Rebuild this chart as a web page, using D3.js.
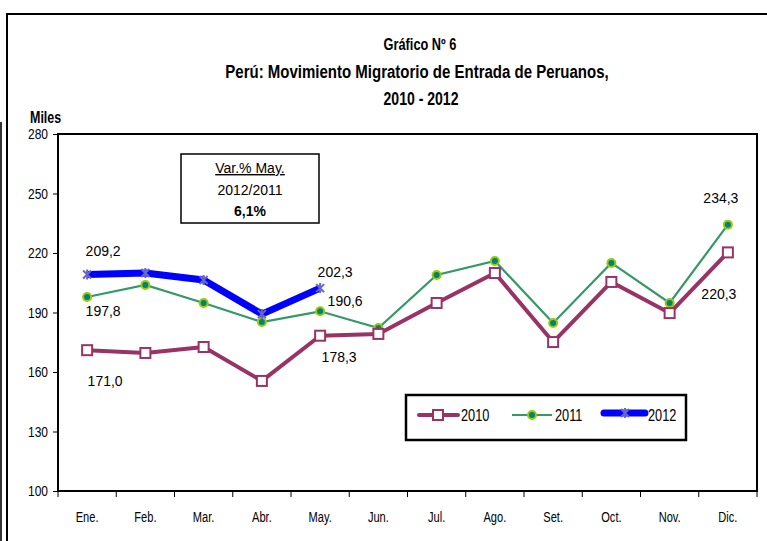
<!DOCTYPE html>
<html lang="es">
<head>
<meta charset="UTF-8">
<title>Gráfico Nº 6</title>
<script src="https://cdn.jsdelivr.net/npm/d3@7"></script>
<style>
  body { margin: 0; background: #fff; }
  text { font-family: "Liberation Sans", Arial, sans-serif; fill: #000; }
</style>
</head>
<body>
<svg id="chart"></svg>
<script>
  // data
  const months = ["Ene.", "Feb.", "Mar.", "Abr.", "May.", "Jun.", "Jul.", "Ago.", "Set.", "Oct.", "Nov.", "Dic."];
  const v2010 = [171.0, 169.6, 172.6, 155.5, 178.3, 179.2, 194.8, 209.9, 175.1, 205.4, 189.7, 220.3];
  const v2011 = [197.8, 203.9, 194.8, 185.2, 190.6, 182.2, 208.9, 216.0, 184.7, 215.0, 194.8, 234.3];
  const v2012 = [209.2, 209.9, 206.4, 189.2, 202.3];
  const yTicks = [100, 130, 160, 190, 220, 250, 280];

  const width = 767, height = 541;
  const svg = d3.select("#chart").attr("width", width).attr("height", height);

  // narrow text (no condensed font available, so squeeze it)
  function ntext(parent, x, y, str, size, sx, anchor, weight) {
    return parent.append("text")
      .attr("transform", `translate(${x},${y}) scale(${sx},1)`)
      .attr("text-anchor", anchor || "start")
      .attr("font-size", size)
      .attr("font-weight", weight || "normal")
      .text(str);
  }

  // outer frame
  svg.append("rect").attr("x", 7).attr("y", 14).attr("width", 780).attr("height", 540)
    .attr("fill", "none").attr("stroke", "#000").attr("stroke-width", 2);
  svg.append("line").attr("x1", 1).attr("x2", 1).attr("y1", 122).attr("y2", 541)
    .attr("stroke", "#333").attr("stroke-width", 2);

  // titles
  ntext(svg, 420, 50, "Gráfico Nº 6", 16, 0.8, "middle", "bold");
  ntext(svg, 417, 78, "Perú: Movimiento Migratorio de Entrada de Peruanos,", 19, 0.79, "middle", "bold");
  ntext(svg, 421, 105, "2010 - 2012", 19, 0.74, "middle", "bold");
  ntext(svg, 30, 123, "Miles", 16, 0.78, "start", "bold");

  const pLeft = 58, pRight = 757, pTop = 134, pBottom = 491;
  const x = d3.scaleBand().domain(months).range([pLeft, pRight]);
  const y = d3.scaleLinear().domain([100, 280]).range([pBottom, pTop]);
  const cx = m => x(m) + x.bandwidth() / 2;

  // plot frame
  svg.append("rect").attr("x", pLeft).attr("y", pTop).attr("width", pRight - pLeft).attr("height", pBottom - pTop)
    .attr("fill", "none").attr("stroke", "#000").attr("stroke-width", 2);

  // y axis
  const yAxis = svg.append("g").attr("transform", `translate(${pLeft},0)`)
    .call(d3.axisLeft(y).tickValues(yTicks).tickSize(5).tickPadding(5));
  yAxis.select(".domain").remove();
  yAxis.selectAll("text").attr("font-size", 15).attr("fill", "#000")
    .attr("x", -10 / 0.8).attr("transform", "scale(0.8,1)");

  // x axis (ticks between months)
  const xAxis = svg.append("g").attr("transform", `translate(0,${pBottom})`)
    .call(d3.axisBottom(x).tickSize(0).tickPadding(20));
  xAxis.select(".domain").remove();
  xAxis.selectAll("text").attr("font-size", 15).attr("fill", "#000")
    .attr("transform", "scale(0.74,1)");
  svg.append("g").selectAll("line")
    .data(months.concat(["end"]))
    .join("line")
    .attr("x1", d => d === "end" ? pRight : x(d)).attr("x2", d => d === "end" ? pRight : x(d))
    .attr("y1", pBottom).attr("y2", pBottom + 6)
    .attr("stroke", "#000");

  const line = d3.line().x((d, i) => cx(months[i])).y(d => y(d));

  // 2011
  svg.append("path").datum(v2011).attr("d", line)
    .attr("fill", "none").attr("stroke", "#339966").attr("stroke-width", 2.2);
  svg.append("g").selectAll("circle").data(v2011).join("circle")
    .attr("cx", (d, i) => cx(months[i])).attr("cy", d => y(d)).attr("r", 4)
    .attr("fill", "#008080").attr("stroke", "#99cc00").attr("stroke-width", 2);

  // 2010
  svg.append("path").datum(v2010).attr("d", line)
    .attr("fill", "none").attr("stroke", "#993366").attr("stroke-width", 4).attr("stroke-linejoin", "round");
  svg.append("g").selectAll("rect").data(v2010).join("rect")
    .attr("x", (d, i) => cx(months[i]) - 5).attr("y", d => y(d) - 5)
    .attr("width", 10).attr("height", 10)
    .attr("fill", "#fff").attr("stroke", "#993366").attr("stroke-width", 2);

  // 2012
  svg.append("path").datum(v2012).attr("d", line)
    .attr("fill", "none").attr("stroke", "#0000ff").attr("stroke-width", 7).attr("stroke-linejoin", "round");
  const star = svg.append("g");
  v2012.forEach((d, i) => {
    const px = cx(months[i]), py = y(d);
    star.append("path")
      .attr("d", `M${px - 4},${py - 4}L${px + 4},${py + 4}M${px - 4},${py + 4}L${px + 4},${py - 4}M${px},${py - 5}L${px},${py + 5}`)
      .attr("stroke", "#6666cc").attr("stroke-width", 2);
  });

  // data labels
  const labels = [
    { t: "209,2", m: "Ene.", v: v2012[0], dx: 16, dy: -22 },
    { t: "197,8", m: "Ene.", v: v2011[0], dx: 16, dy: 15 },
    { t: "171,0", m: "Ene.", v: v2010[0], dx: 18, dy: 32 },
    { t: "202,3", m: "May.", v: v2012[4], dx: 15, dy: -15 },
    { t: "190,6", m: "May.", v: v2011[4], dx: 25, dy: -9 },
    { t: "178,3", m: "May.", v: v2010[4], dx: 19, dy: 23 },
    { t: "234,3", m: "Dic.", v: v2011[11], dx: -7, dy: -25 },
    { t: "220,3", m: "Dic.", v: v2010[11], dx: -9, dy: 43 }
  ];
  svg.append("g").selectAll("text").data(labels).join("text")
    .attr("x", d => cx(d.m) + d.dx).attr("y", d => y(d.v) + d.dy)
    .attr("text-anchor", "middle").attr("dominant-baseline", "middle")
    .attr("font-size", 14).text(d => d.t);

  // variation box
  svg.append("rect").attr("x", 181).attr("y", 154).attr("width", 138).attr("height", 69)
    .attr("fill", "#fff").attr("stroke", "#000").attr("stroke-width", 1.5);
  svg.append("text").attr("x", 250).attr("y", 173).attr("text-anchor", "middle")
    .attr("font-size", 14).attr("text-decoration", "underline").text("Var.% May.");
  svg.append("text").attr("x", 250).attr("y", 195).attr("text-anchor", "middle")
    .attr("font-size", 14).text("2012/2011");
  svg.append("text").attr("x", 250).attr("y", 216).attr("text-anchor", "middle")
    .attr("font-size", 14).attr("font-weight", "bold").text("6,1%");

  // legend
  const lg = svg.append("g");
  lg.append("rect").attr("x", 406).attr("y", 395).attr("width", 280).attr("height", 45)
    .attr("fill", "#fff").attr("stroke", "#000").attr("stroke-width", 2.5);
  const ly = 415;
  lg.append("line").attr("x1", 419).attr("x2", 458).attr("y1", ly).attr("y2", ly)
    .attr("stroke", "#993366").attr("stroke-width", 4).attr("stroke-linecap", "round");
  lg.append("rect").attr("x", 433).attr("y", ly - 5).attr("width", 10).attr("height", 10)
    .attr("fill", "#fff").attr("stroke", "#993366").attr("stroke-width", 2);
  lg.append("line").attr("x1", 512).attr("x2", 552).attr("y1", ly).attr("y2", ly)
    .attr("stroke", "#339966").attr("stroke-width", 2.2);
  lg.append("circle").attr("cx", 532).attr("cy", ly).attr("r", 4)
    .attr("fill", "#008080").attr("stroke", "#99cc00").attr("stroke-width", 2);
  lg.append("line").attr("x1", 604).attr("x2", 645).attr("y1", ly - 2).attr("y2", ly - 2)
    .attr("stroke", "#0000ff").attr("stroke-width", 7).attr("stroke-linecap", "round");
  lg.append("path")
    .attr("d", `M${621},${ly - 6}L${629},${ly + 2}M${621},${ly + 2}L${629},${ly - 6}M${625},${ly - 7}L${625},${ly + 3}`)
    .attr("stroke", "#6666cc").attr("stroke-width", 2);
  [["2010", 461], ["2011", 555], ["2012", 648]].forEach(([t, px]) => {
    ntext(lg, px, ly + 6, t, 17, 0.75, "start");
  });
</script>
</body>
</html>
